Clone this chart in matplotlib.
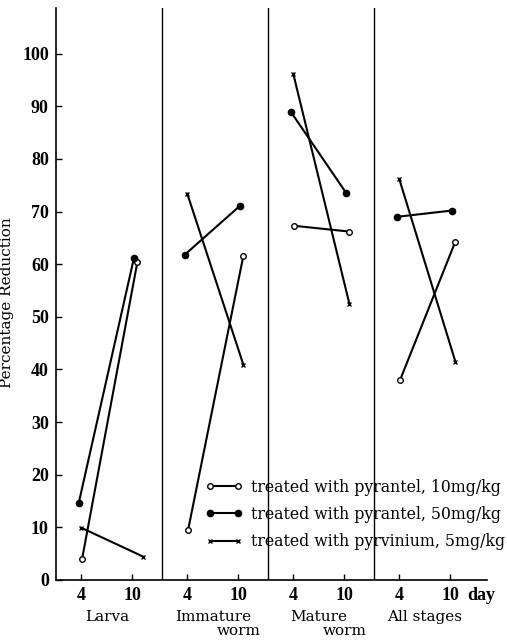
import matplotlib
matplotlib.use("Agg")
import matplotlib.pyplot as plt
from matplotlib.lines import Line2D

# data
stages = ["Larva", "Immature\nworm", "Mature\nworm", "All stages"]
days = [4, 10]
pyrantel10 = [[4.0, 60.4], [9.5, 61.6], [67.3, 66.2], [38.0, 64.3]]
pyrantel50 = [[14.6, 61.2], [61.8, 71.1], [89.0, 73.6], [69.0, 70.2]]
pyrvinium5 = [[9.9, 4.4], [73.4, 40.9], [96.2, 52.5], [76.2, 41.5]]
labels = ["treated with pyrantel, 10mg/kg",
          "treated with pyrantel, 50mg/kg",
          "treated with pyrvinium, 5mg/kg"]

W = 12.47  # panel width in days
serif = "DejaVu Serif"

fig = plt.figure(figsize=(5.07, 6.4), dpi=100)
ax = fig.add_axes([0.110, 0.094, 0.850, 0.8935])

# small horizontal nudges so markers don't overlap (as in original)
nudge = {"p10": (0.1, 0.6), "p50": (-0.3, 0.2), "pv": (0.0, 0.6)}
styles = {
    "p10": dict(marker="o", mfc="white", mec="black", ms=4, mew=1.0),
    "p50": dict(marker="o", mfc="black", mec="black", ms=4.5),
    "pv": dict(marker="x", mec="black", ms=3.5, mew=1.0),
}
series = [("p10", pyrantel10), ("p50", pyrantel50), ("pv", pyrvinium5)]

for key, vals in series:
    for i, (a, b) in enumerate(vals):
        n0, n1 = nudge[key]
        if key == "pv" and i == 0:
            n1 = 1.3
        xs = [i * W + days[0] - 1 + n0, i * W + days[1] - 1 + n1]
        ax.plot(xs, [a, b], color="black", lw=1.5, **styles[key])

for i in range(1, 4):
    ax.axvline(i * W, color="black", lw=1.0)

ax.set_xlim(0, 50.7)
ax.set_ylim(0, 108.7)
ax.spines["top"].set_visible(False)
ax.spines["right"].set_visible(False)
ax.spines["left"].set_linewidth(1.2)
ax.spines["bottom"].set_linewidth(1.2)

tickfont = dict(fontfamily="Liberation Serif", fontweight="bold", fontsize=13)
ax.set_yticks(range(0, 101, 10))
ax.set_yticklabels([str(v) for v in range(0, 101, 10)], **tickfont)
xt = []
xl = []
for i in range(4):
    for d in days:
        xt.append(i * W + d - 1)
        xl.append(str(d))
ax.set_xticks(xt)
ax.set_xticklabels(xl, **tickfont)
ax.tick_params(direction="in", length=4, width=1.0, pad=5)
ax.annotate("day", xy=(xt[-1], 0), xycoords=("data", "axes fraction"),
            xytext=(12, -5), textcoords="offset points", va="top", ha="left", **tickfont)

ax.set_ylabel("Percentage Reduction", fontfamily=serif, fontsize=11)
ax.yaxis.set_label_coords(-0.097, 0.484)

# stage labels
for i, s in enumerate(stages):
    parts = s.split("\n")
    xc = i * W + 6.0
    ax.text(xc, -7.0, parts[0], fontfamily=serif, fontsize=11, ha="center", va="center")
    if len(parts) > 1:
        ax.text(xc + 3.0, -9.8, parts[1], fontfamily=serif, fontsize=11,
                ha="center", va="center")

handles = [Line2D([0], [0], color="black", lw=1.5, **styles[k]) for k, _ in series]
fig.legend(handles, labels, loc="upper left", bbox_to_anchor=(0.405, 0.252),
           frameon=False, numpoints=2, handlelength=2.4, handletextpad=0.5,
           labelspacing=0.65, borderpad=0, borderaxespad=0,
           prop={"family": serif, "size": 11.3})

fig.savefig("out.png", dpi=100)
